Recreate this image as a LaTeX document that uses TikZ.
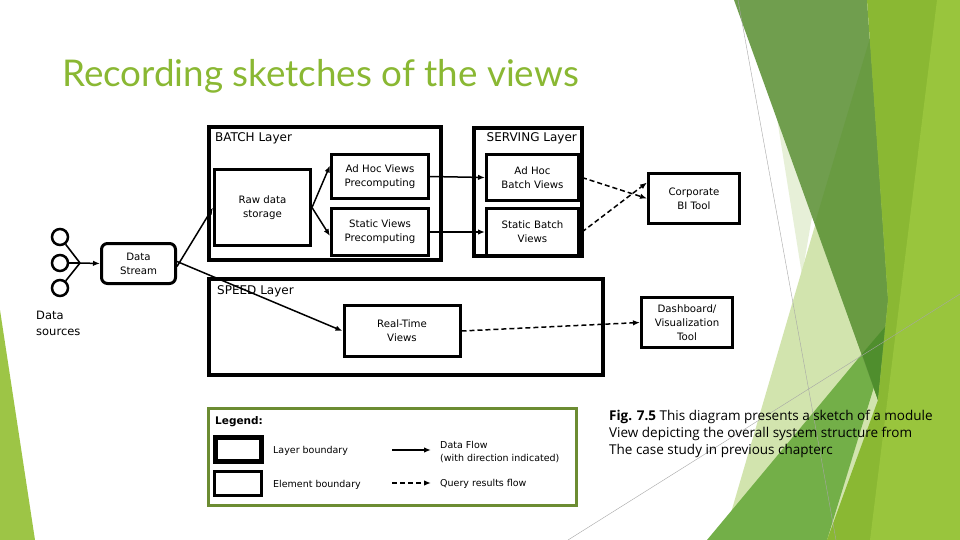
\documentclass[tikz,border=0pt]{standalone}
\usepackage{fontspec}
\setmainfont{DejaVu Sans}
\newfontfamily\slidefont{Lato}
\newfontfamily\capfont{Open Sans}
\usetikzlibrary{arrows.meta}
\definecolor{titlegreen}{HTML}{8AB833}
\definecolor{sageA}{HTML}{709E4E}
\definecolor{sageB}{HTML}{699B42}
\definecolor{darkgr}{HTML}{4F8E2D}
\definecolor{midgr}{HTML}{73AF48}
\definecolor{limeA}{HTML}{8AB833}
\definecolor{limeB}{HTML}{99C53D}
\definecolor{paleA}{HTML}{D2E4AE}
\definecolor{paleB}{HTML}{E7F0D8}
\definecolor{leftlime}{HTML}{9DC546}
\definecolor{olive}{RGB}{108,140,50}
\begin{document}
\begin{tikzpicture}[x=1pt,y=-1pt,
  elem/.style={draw, line width=3pt, fill=white, align=center, inner sep=1pt,
    font=\fontsize{10.2}{14}\selectfont},
  layerbox/.style={draw, line width=4.5pt},
  lbl/.style={inner sep=0pt, font=\fontsize{12}{14}\selectfont},
  small/.style={inner sep=0pt, align=left, font=\fontsize{9.5}{13.5}\selectfont},
  flow/.style={line width=1.5pt, -{Latex[length=7pt,width=5.5pt]}},
  query/.style={flow, dash pattern=on 5pt off 3pt},
  src/.style={draw, circle, line width=2.5pt, minimum size=16pt, inner sep=0pt}
]
\useasboundingbox (0,0) rectangle (960,540);
\fill[white] (0,0) rectangle (960,540);
% background facets
\fill[leftlime] (0,310) -- (0,540) -- (35,540) -- cycle;
\fill[paleB] (776,112) -- (802,275) -- (830,112) -- cycle;
\fill[paleA] (881,0) -- (723,540) -- (960,540) -- (960,0) -- cycle;
\fill[midgr] (707,540) -- (897,312) -- (827,540) -- cycle;
\fill[sageA] (734,0) -- (867,0) -- (888,300) -- (878,400) -- cycle;
\fill[sageB] (870,38) -- (888,300) -- (878,400) -- (815,223) -- cycle;
\fill[darkgr] (862,354) -- (885,327) -- (878,400) -- cycle;
\fill[limeA] (867,0) -- (960,0) -- (960,540) -- (827,540) -- (878,400) -- (888,300) -- cycle;
\fill[limeB] (937,0) -- (960,0) -- (960,540) -- (870,540) -- cycle;
\draw[gray!70, line width=0.4pt] (738,0) -- (836,540);
\draw[gray!70, line width=0.4pt] (568,540) -- (960,294);

% title
\node[anchor=base west, inner sep=0pt, text=titlegreen, font=\slidefont\fontsize{36.8}{40}\selectfont] (title) at (62,87) {Recording sketches of the views};

% layers
\node[layerbox, minimum width=232pt, minimum height=133pt] (batch) at (325,193.5) {};
\node[layerbox, minimum width=108pt, minimum height=128pt] (serving) at (528,192) {};
\node[layerbox, minimum width=394pt, minimum height=96pt] (speed) at (406,327) {};
\node[lbl, anchor=base west] (batchlbl) at (215,142) {BATCH Layer};
\node[lbl, anchor=base east] (servlbl) at (577,142) {SERVING Layer};
\node[lbl, anchor=base west] (speedlbl) at (217,294) {SPEED Layer};

% elements
\node[elem, minimum width=96pt, minimum height=76pt] (raw) at (262.5,207.5) {Raw data\\storage};
\node[elem, minimum width=97pt, minimum height=44pt] (adhocpre) at (380,176.5) {Ad Hoc Views\\Precomputing};
\node[elem, minimum width=97pt, minimum height=47pt] (staticpre) at (380,232) {Static Views\\Precomputing};
\node[elem, minimum width=92pt, minimum height=46pt] (adhocbv) at (532.5,177.5) {Ad Hoc\\Batch Views};
\node[elem, minimum width=92pt, minimum height=47pt] (staticbv) at (532.5,232) {Static Batch\\Views};
\node[elem, minimum width=91pt, minimum height=50pt] (bi) at (694,198.5) {Corporate\\BI Tool};
\node[elem, minimum width=116pt, minimum height=51pt] (rt) at (402,331) {Real-Time\\Views};
\node[elem, minimum width=91pt, minimum height=50pt] (dash) at (687,322.5) {Dashboard/\\Visualization\\Tool};
\node[elem, rounded corners=6pt, minimum width=74pt, minimum height=40pt] (ds) at (138.5,263.5) {Data\\Stream};

% data sources
\node[src] (s1) at (60,237) {};
\node[src] (s2) at (60,263) {};
\node[src] (s3) at (60,288) {};
\coordinate (jn) at (80,263);
\node[small, anchor=north west, font=\fontsize{11.5}{16}\selectfont] (dslbl) at (36,311) {Data\\sources};
\draw[line width=1.6pt] (s1) -- (jn);
\draw[line width=1.6pt] (s2) -- (jn);
\draw[line width=1.6pt] (s3) -- (jn);
\draw[flow] (jn) -- (ds.west);

% data flows
\draw[flow] ([yshift=-3pt]ds.east) -- (raw.west);
\draw[flow] ([yshift=2pt]ds.east) -- (rt.west);
\draw[flow] (raw.east) -- ([yshift=11pt]adhocpre.west);
\draw[flow] (raw.east) -- ([yshift=-4pt]staticpre.west);
\draw[flow] (adhocpre.east) -- (adhocbv.west);
\draw[flow] (staticpre.east) -- (staticbv.west);

% query flows
\draw[query] ([xshift=2pt]adhocbv.east) -- (bi.west);
\draw[query] ([xshift=2pt]staticbv.east) -- ([yshift=16pt]bi.west);
\draw[query] (rt.east) -- (dash.west);

% legend
\node[draw=olive, line width=3pt, minimum width=368pt, minimum height=97pt] (legend) at (392.5,457) {};
\node[small, anchor=base west, font=\bfseries\fontsize{10.5}{13}\selectfont] (legtitle) at (215,424) {Legend:};
\node[draw, line width=5pt, minimum width=46pt, minimum height=24pt] (legthick) at (238,449) {};
\node[draw, line width=3.5pt, minimum width=47pt, minimum height=24pt] (legthin) at (238,483.5) {};
\node[small, anchor=base west] (lt1) at (273,453) {Layer boundary};
\node[small, anchor=base west] (lt2) at (273,487) {Element boundary};
\coordinate (la1) at (392,450);
\coordinate (la2) at (431,450);
\coordinate (lb1) at (392,483);
\coordinate (lb2) at (431,483);
\draw[flow, line width=1.4pt] (la1) -- (la2);
\draw[query, line width=1.4pt] (lb1) -- (lb2);
\node[small, anchor=north west] (lt3) at (440,441) {Data Flow\\(with direction indicated)};
\node[small, anchor=base west] (lt4) at (440,486) {Query results flow};

% caption
\node[anchor=north west, inner sep=0pt, align=left, font=\capfont\fontsize{13.5}{17}\selectfont] (caption) at (609,410)
  {\textbf{Fig. 7.5} This diagram presents a sketch of a module\\View depicting the overall system structure from\\The case study in previous chapterc};
\end{tikzpicture}
\end{document}
